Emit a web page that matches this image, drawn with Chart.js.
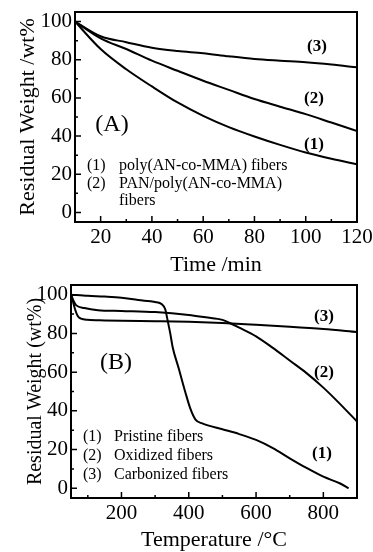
<!DOCTYPE html>
<html>
<head>
<meta charset="utf-8">
<script src="https://cdn.jsdelivr.net/npm/chart.js@4.4.0/dist/chart.umd.min.js"></script>
<style>
  body { margin: 0; background: #fff; }
  #wrap { position: relative; width: 373px; height: 552px; }
  .box { position: absolute; left: 0; width: 373px; }
  #boxA { top: 0; height: 280px; }
  #boxB { top: 270px; height: 282px; }
</style>
</head>
<body>
<div id="wrap">
  <div class="box" id="boxA"><canvas id="chartA" width="373" height="280"></canvas></div>
  <div class="box" id="boxB"><canvas id="chartB" width="373" height="282"></canvas></div>
</div>
<script>
// (A) residual weight vs time
var timeA   = [10, 20, 30, 40, 50, 60, 70, 80, 90, 100, 110, 120];
var weightA1 = [100, 85.6, 75, 66, 57.6, 50.6, 44.7, 39.8, 35.4, 31.4, 28.1, 25.2];
var weightA2 = [100, 91.2, 85.6, 79.5, 74.2, 69, 64.2, 59.4, 55.4, 51.5, 47.1, 42.7];
var weightA3 = [100, 92.3, 89.2, 86.3, 84.6, 83.4, 81.8, 80.4, 79.5, 78.7, 77.5, 76];
var xTicksA = [20, 40, 60, 80, 100, 120];
var xMinorA = [30, 50, 70, 90, 110];

// (B) residual weight vs temperature
var tempB1   = [50, 100, 150, 200, 250, 300, 320, 330, 338, 345, 352, 370, 390, 405, 420, 440, 500, 550, 600, 650, 700, 750, 800, 850, 875];
var weightB1 = [100, 99.4, 99, 98.4, 97.2, 96.2, 95, 92.5, 86, 80, 73, 62, 49.5, 41, 35.5, 33.5, 30.5, 28, 25, 20.8, 15.5, 10.5, 6, 2.5, 0];
var tempB2   = [50, 57, 65, 90, 130, 200, 300, 400, 450, 500, 520, 550, 600, 650, 700, 750, 800, 850, 900];
var weightB2 = [100, 97, 94.6, 93.1, 92, 91.6, 91, 89.5, 88.3, 87, 85.5, 83, 78.5, 72.5, 66, 59.5, 52, 43.5, 34.5];
var tempB3   = [50, 55, 62, 70, 80, 100, 150, 200, 300, 400, 500, 600, 700, 800, 900];
var weightB3 = [100, 97, 92.5, 89, 87.6, 87, 86.7, 86.5, 86.3, 86, 85.4, 84.5, 83.5, 82.3, 80.7];
var xTicksB = [200, 400, 600, 800];
var xMinorB = [100, 300, 500, 700];

var yTicks = [0, 20, 40, 60, 80, 100];
var yMinor = [10, 30, 50, 70, 90];

Chart.defaults.font.family = "'Liberation Serif', 'Times New Roman', serif";
Chart.defaults.color = '#000';

function pts(xs, ys) {
    return xs.map(function (x, i) { return { x: x, y: ys[i] }; });
}

function line(xs, ys) {
    return {
        data: pts(xs, ys),
        borderColor: '#000',
        borderWidth: 2,
        pointRadius: 0,
        fill: false,
        cubicInterpolationMode: 'monotone'
    };
}

/* cadre + ticks vers l'interieur + textes */
var framePlugin = {
    id: 'frame',
    afterDatasetsDraw: function (chart, args, opts) {
        var ctx = chart.ctx, a = chart.chartArea;
        var sx = chart.scales.x, sy = chart.scales.y;
        ctx.save();
        ctx.strokeStyle = '#000';
        ctx.lineWidth = 2;
        ctx.strokeRect(a.left, a.top, a.right - a.left, a.bottom - a.top);
        ctx.lineWidth = 1.5;
        ctx.beginPath();
        opts.xMajor.forEach(function (v) { var p = sx.getPixelForValue(v); ctx.moveTo(p, a.bottom); ctx.lineTo(p, a.bottom - 6); });
        opts.xMinor.forEach(function (v) { var p = sx.getPixelForValue(v); ctx.moveTo(p, a.bottom); ctx.lineTo(p, a.bottom - 3); });
        yTicks.forEach(function (v) { var p = sy.getPixelForValue(v); ctx.moveTo(a.left, p); ctx.lineTo(a.left + 6, p); });
        yMinor.forEach(function (v) { var p = sy.getPixelForValue(v); ctx.moveTo(a.left, p); ctx.lineTo(a.left + 3, p); });
        ctx.stroke();
        ctx.fillStyle = '#000';
        ctx.textBaseline = 'middle';
        opts.texts.forEach(function (t) {
            ctx.font = t.font + " 'Liberation Serif', 'Times New Roman', serif";
            ctx.textAlign = t.align || 'center';
            ctx.fillText(t.text, t.x, t.y);
        });
        ctx.restore();
    }
};

function makeChart(id, cfg) {
    return new Chart(document.getElementById(id), {
        type: 'line',
        data: { datasets: cfg.datasets },
        options: {
            responsive: false,
            animation: false,
            devicePixelRatio: 1,
            layout: { padding: { left: 0, top: cfg.top, right: 16, bottom: 0 } },
            plugins: {
                legend: { display: false },
                tooltip: { enabled: false },
                frame: { xMajor: cfg.xMajor, xMinor: cfg.xMinor, texts: cfg.texts }
            },
            scales: {
                x: {
                    type: 'linear',
                    min: cfg.xMin, max: cfg.xMax,
                    afterBuildTicks: function (s) { s.ticks = cfg.xMajor.map(function (v) { return { value: v }; }); },
                    afterFit: function (s) { s.height = cfg.xHeight; s.paddingLeft = 0; s.paddingRight = 0; },
                    grid: { display: false, drawTicks: false },
                    border: { display: false },
                    ticks: { padding: 3, maxRotation: 0, font: { size: 21 } },
                    title: { display: true, text: cfg.xTitle, font: { size: 22, lineHeight: 1 }, padding: { top: 0, bottom: cfg.xTitlePad } }
                },
                y: {
                    min: -5, max: 105,
                    afterBuildTicks: function (s) { s.ticks = yTicks.map(function (v) { return { value: v }; }); },
                    afterFit: function (s) { s.width = cfg.yWidth; s.paddingTop = 0; s.paddingBottom = 0; },
                    grid: { display: false, drawTicks: false },
                    border: { display: false },
                    ticks: { padding: 3, font: { size: 21 } },
                    title: { display: true, text: cfg.yTitle, font: { size: cfg.yTitleSize, lineHeight: 1 }, padding: { top: cfg.yTitlePad, bottom: 0 } }
                }
            }
        },
        plugins: [framePlugin]
    });
}

var chartA = makeChart('chartA', {
    datasets: [line(timeA, weightA1), line(timeA, weightA2), line(timeA, weightA3)],
    top: 12, xMin: 10, xMax: 120, xHeight: 58, yWidth: 75,
    xMajor: xTicksA, xMinor: xMinorA,
    xTitle: 'Time /min', xTitlePad: 4,
    yTitle: 'Residual Weight /wt%', yTitleSize: 22, yTitlePad: 17,
    texts: [
        { text: '(3)', x: 317, y: 47, font: 'bold 17px' },
        { text: '(2)', x: 314, y: 99, font: 'bold 17px' },
        { text: '(1)', x: 314, y: 145, font: 'bold 17px' },
        { text: '(A)', x: 112, y: 125, font: '24px' },
        { text: '(1)', x: 87, y: 166, font: '16px', align: 'left' },
        { text: 'poly(AN-co-MMA) fibers', x: 119, y: 166, font: '16px', align: 'left' },
        { text: '(2)', x: 87, y: 184, font: '16px', align: 'left' },
        { text: 'PAN/poly(AN-co-MMA)', x: 119, y: 184, font: '16px', align: 'left' },
        { text: 'fibers', x: 119, y: 201, font: '16px', align: 'left' }
    ]
});

var chartB = makeChart('chartB', {
    datasets: [line(tempB1, weightB1), line(tempB2, weightB2), line(tempB3, weightB3)],
    top: 15, xMin: 50, xMax: 900, xHeight: 54, yWidth: 71,
    xMajor: xTicksB, xMinor: xMinorB,
    xTitle: 'Temperature /°C', xTitlePad: 1,
    yTitle: 'Residual Weight (wt%)', yTitleSize: 20, yTitlePad: 26,
    texts: [
        { text: '(3)', x: 324, y: 47, font: 'bold 17px' },
        { text: '(2)', x: 324, y: 103, font: 'bold 17px' },
        { text: '(1)', x: 322, y: 184, font: 'bold 17px' },
        { text: '(B)', x: 116, y: 93, font: '24px' },
        { text: '(1)', x: 83, y: 167, font: '16px', align: 'left' },
        { text: 'Pristine fibers', x: 114, y: 167, font: '16px', align: 'left' },
        { text: '(2)', x: 83, y: 186, font: '16px', align: 'left' },
        { text: 'Oxidized fibers', x: 114, y: 186, font: '16px', align: 'left' },
        { text: '(3)', x: 83, y: 205, font: '16px', align: 'left' },
        { text: 'Carbonized fibers', x: 114, y: 205, font: '16px', align: 'left' }
    ]
});
</script>
</body>
</html>
